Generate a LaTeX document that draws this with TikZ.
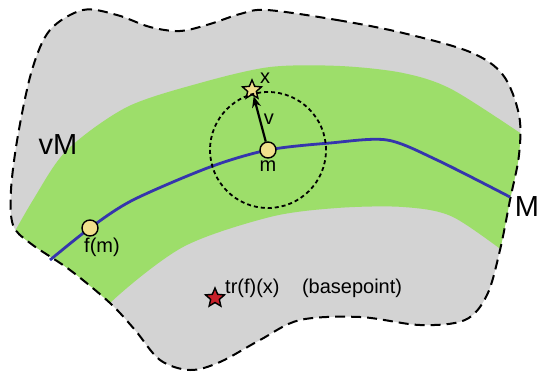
\documentclass[tikz,border=0pt]{standalone}
\usepackage{fontspec}
\setmainfont{Liberation Sans}
\definecolor{cGray}{HTML}{D3D3D3}
\definecolor{cGreen}{HTML}{9DDE6A}
\definecolor{cBlue}{HTML}{3535AD}
\definecolor{cDot}{HTML}{F0E08C}
\definecolor{cRed}{HTML}{C8202A}
\usetikzlibrary{positioning,arrows.meta,shapes.geometric}

\begin{document}
\begin{tikzpicture}[x=1pt,y=-1pt,
      pt/.style={circle,draw=black,fill=cDot,line width=1.4pt,minimum size=16pt,inner sep=0pt},
      strx/.style={star,star points=5,star point ratio=2.2,draw=black,line width=1.4pt,
                   minimum size=20pt,inner sep=0pt},
      lbl/.style={font=\fontsize{20}{24}\selectfont,inner sep=1pt},
      big/.style={font=\fontsize{29}{34}\selectfont,inner sep=0pt},
      arr/.style={-{Stealth[length=11pt,width=9pt]},line width=2.2pt}]
    \useasboundingbox (0,0) rectangle (540,372);
    % outline of vM
    \def\blob{plot[smooth cycle,tension=0.55] coordinates {(267,10) (337,20) (403,33) (470,52)
      (503,75) (519,115) (519,155) (510,200) (500,250) (487,295) (465,320) (420,325) (360,317)
      (300,320) (260,340) (220,362) (190,370) (160,360) (135,330) (110,303) (70,270) (30,243)
      (13,225) (11,190) (18,135) (32,70) (50,30) (83,10) (117,15) (150,27) (180,31) (210,24) (240,14)}}
    \fill[cGray] \blob;
    \begin{scope}
      \clip \blob;
      \fill[cGreen] plot[smooth] coordinates {(0,258) (33,200) (67,150) (127,107) (200,83)
          (270,67) (340,66) (403,73) (453,90) (535,143)}
        -- (545,143) -- (545,262) --
        plot[smooth] coordinates {(515,260) (453,217) (403,207) (337,208) (270,217) (183,247)
          (110,303) (80,345)} -- (0,345) -- cycle;
    \end{scope}
    \draw[dash pattern=on 10pt off 6pt,line width=2pt] \blob;
    % the curve M
    \draw[cBlue,line width=2.8pt] plot[smooth] coordinates {(50,260) (90,228) (133,200) (210,167)
      (268,150) (330,143) (387,140) (437,160) (510,197)};
    \node[pt] (m) at (268,150) {};
    \node[pt] (fm) at (90,228) {};
    \node[strx,fill=cDot] (x) at (252,90) {};
    \node[strx,fill=cRed] (tr) at (215,298) {};
    \draw[dash pattern=on 4pt off 3pt,line width=1.8pt] (m.center) circle[radius=58pt];
    \draw[arr] (m) -- node[lbl,right=2pt] {v} (x);
    \node[lbl,below=1pt of m] {m};
    \node[lbl,right=0pt of x,yshift=12pt] {x};
    \node[lbl,below=0pt of fm,xshift=12pt] {f(m)};
    \node[lbl,right=2pt of tr,yshift=10pt] (trl) {tr(f)(x)};
    \node[lbl,right=20pt of trl] {(basepoint)};
    \node[big] (vml) at (58,145) {vM};
    \node[big] (ml) at (527,207) {M};
  \end{tikzpicture}
\end{document}
